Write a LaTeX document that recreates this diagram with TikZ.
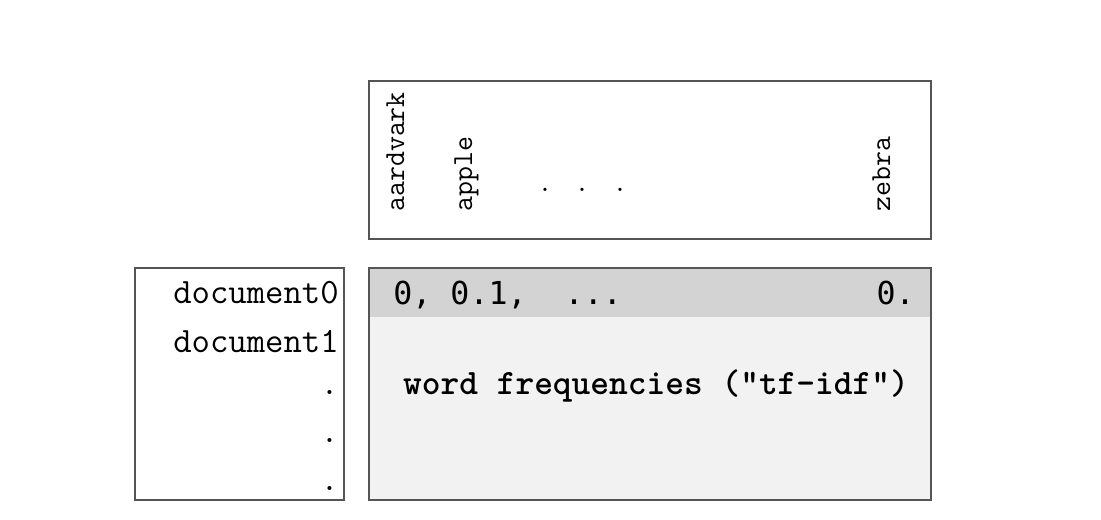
\documentclass[tikz,border=0pt]{standalone}
\usepackage{fontspec}
\newfontfamily\sansmono{DejaVu Sans Mono}
\usepackage{xcolor}
\definecolor{bandgray}{HTML}{d3d3d3}
\definecolor{cellgray}{HTML}{f2f2f2}
\definecolor{framegray}{HTML}{555555}

\tikzset{
  frame/.style={draw=framegray, line width=0.6pt},
  wordlabel/.style={rotate=90, anchor=base west, inner sep=0pt,
    font=\ttfamily\fontsize{16.5}{18}\selectfont},
  doclabel/.style={anchor=east, inner sep=0pt,
    font=\ttfamily\fontsize{20.3}{22}\selectfont},
  rowlabel/.style={inner sep=0pt, font=\sansmono\fontsize{18}{20}\selectfont}
}

\begin{document}
\begin{tikzpicture}

  % bounding box
  \useasboundingbox (0,0) rectangle (22.02,10.38);

  % vocabulary box
  \draw[frame, fill=white] (7.38,5.60) rectangle (18.62,8.76);
  \node[wordlabel] (aardvark) at (8.08,6.14) {aardvark};
  \node[wordlabel] (apple) at (9.44,6.14) {apple};
  \node[wordlabel] (zebra) at (17.80,6.14) {zebra};
  \foreach \x [count=\i] in {10.90,11.64,12.40}
    \node[inner sep=0pt, font=\ttfamily\fontsize{16.5}{18}\selectfont] (vdot\i) at (\x,6.58) {.};

  % document box
  \draw[frame, fill=white] (2.70,0.38) rectangle (6.88,5.02);
  \node[doclabel] (doc0) at (6.78,4.52) {document0};
  \node[doclabel] (doc1) at (6.78,3.56) {document1};
  \node[doclabel] (ddot1) at (6.78,2.54) {.};
  \node[doclabel] (ddot2) at (6.78,1.58) {.};
  \node[doclabel] (ddot3) at (6.78,0.62) {.};

  % matrix box
  \fill[cellgray] (7.38,0.38) rectangle (18.62,5.02);
  \fill[bandgray] (7.38,4.04) rectangle (18.62,5.02);
  \draw[frame] (7.38,0.38) rectangle (18.62,5.02);
  \node[rowlabel, anchor=base west] (rowfirst) at (7.86,4.30) {0, 0.1,\ \ ...};
  \node[rowlabel, anchor=base east] (rowlast) at (18.30,4.30) {0.};
  \node[inner sep=0pt, font=\ttfamily\bfseries\fontsize{20.3}{22}\selectfont] (tfidf) at (13.12,2.66) {word frequencies ("tf-idf")};

\end{tikzpicture}
\end{document}
